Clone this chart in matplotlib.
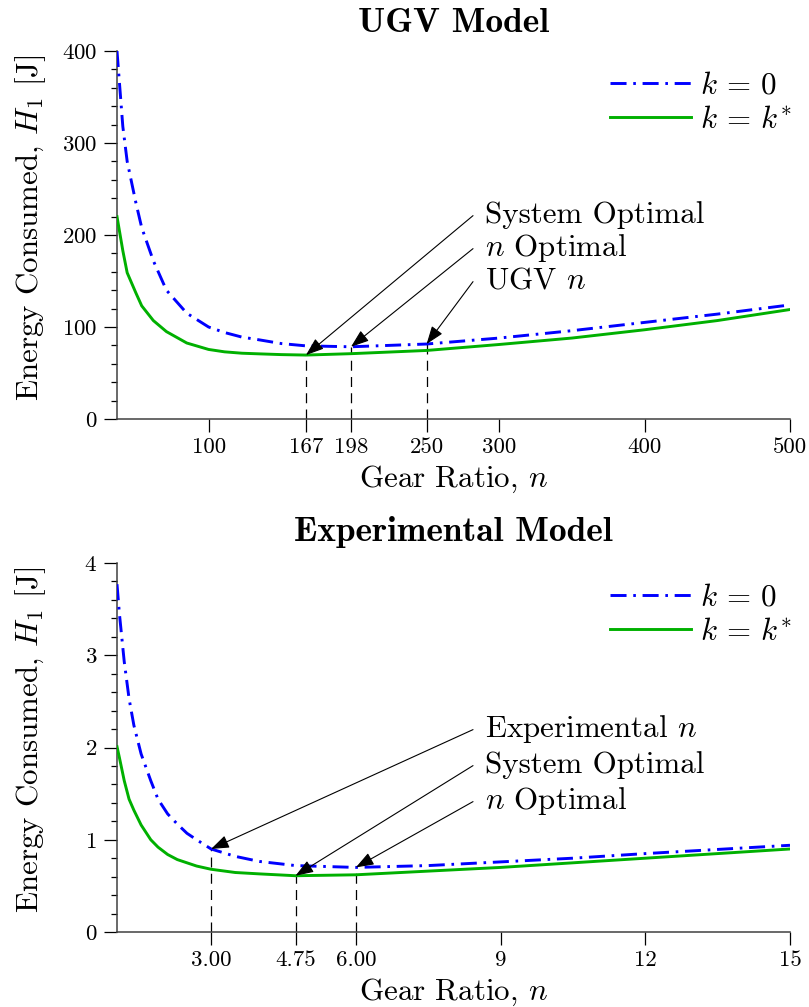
import numpy as np
import matplotlib
matplotlib.use("Agg")
import matplotlib.pyplot as plt
from matplotlib.ticker import FixedLocator, FixedFormatter, MultipleLocator

plt.rcParams["font.family"] = ["cmr10", "DejaVu Serif"]
plt.rcParams["mathtext.fontset"] = "cm"
plt.rcParams["axes.unicode_minus"] = False
plt.rcParams["axes.formatter.use_mathtext"] = True

# ---- UGV model: energy vs gear ratio ----
ugv_n = [37, 41, 44, 50, 54, 62, 71, 85, 100, 111, 123, 135, 150, 167, 198,
         250, 300, 350, 400, 450, 500]
ugv_k0 = [400, 318, 280, 235, 208, 172, 140, 115, 100, 94, 89, 86, 82, 79.5,
          78.5, 81.5, 88, 96, 105, 114, 124]
ugv_kstar = [220, 183, 159, 137, 123, 107, 95, 82.6, 75.6, 73, 71.5, 70.8, 70,
             69.5, 71, 74.5, 81, 88, 97, 107, 119]
ugv_xticks = [100, 167, 198, 250, 300, 400, 500]
ugv_xticklabels = ["100", "167", "198", "250", "300", "400", "500"]
ugv_yticks = [0, 100, 200, 300, 400]
# (label, gear ratio, curve it points at)
ugv_marks = [("System Optimal", 167, "kstar"),
             ("$n$ Optimal", 198, "k0"),
             ("UGV $n$", 250, "k0")]

# ---- Experimental model ----
exp_n = [1.05, 1.1, 1.2, 1.3, 1.4, 1.55, 1.75, 1.9, 2.1, 2.3, 2.5, 2.7, 3.0,
         3.5, 4.0, 4.75, 6.0, 7.5, 9, 10.5, 12, 13.5, 15]
exp_k0 = [3.77, 3.45, 2.93, 2.53, 2.24, 1.93, 1.64, 1.44, 1.28, 1.17, 1.07,
          1.0, 0.90, 0.82, 0.765, 0.72, 0.70, 0.72, 0.76, 0.80, 0.85, 0.895, 0.94]
exp_kstar = [2.01, 1.89, 1.64, 1.44, 1.32, 1.16, 1.0, 0.92, 0.84, 0.785, 0.75,
             0.715, 0.68, 0.645, 0.63, 0.61, 0.62, 0.66, 0.70, 0.75, 0.80,
             0.85, 0.90]
exp_xticks = [3.0, 4.75, 6.0, 9, 12, 15]
exp_xticklabels = ["3.00", "4.75", "6.00", "9", "12", "15"]
exp_yticks = [0, 1, 2, 3, 4]
exp_marks = [("Experimental $n$", 3.0, "k0"),
             ("System Optimal", 4.75, "kstar"),
             ("$n$ Optimal", 6.0, "k0")]

BLUE = "#0000FF"
GREEN = "#00B000"
SPINE = "#404040"
BIG = 22.3
TITLE = 25.5
TICK = 16.5

W, H = 809, 1007
fig = plt.figure(figsize=(W / 100, H / 100), dpi=100)
ax1 = fig.add_axes([117 / W, 1 - 419 / H, 673 / W, 368 / H])
ax2 = fig.add_axes([117 / W, 1 - 932 / H, 673 / W, 369 / H])


def draw_panel(ax, n, k0, kstar, xlim, ylim, xticks, xlabels, yticks, yminor,
               marks, text_y, title, title_pad):
    ax.plot(n, k0, color=BLUE, lw=2.1, dashes=(5.5, 2.3, 0.9, 2.3),
            label=r"$k\,=\,0$", zorder=3)
    ax.plot(n, kstar, color=GREEN, lw=2.1, label=r"$k\,=\,k^{*}$", zorder=3)

    ax.set_xlim(*xlim)
    ax.set_ylim(*ylim)
    for side in ("top", "right"):
        ax.spines[side].set_visible(False)
    for side in ("left", "bottom"):
        ax.spines[side].set_color(SPINE)
        ax.spines[side].set_linewidth(1.1)

    ax.xaxis.set_major_locator(FixedLocator(xticks))
    ax.xaxis.set_major_formatter(FixedFormatter(xlabels))
    ax.yaxis.set_major_locator(FixedLocator(yticks))
    ax.yaxis.set_minor_locator(MultipleLocator(yminor))
    ax.tick_params(which="major", direction="out", length=9.4, width=0.9,
                   labelsize=TICK, colors="black")
    ax.tick_params(axis="x", which="major", pad=4)
    ax.tick_params(axis="y", which="major", pad=5)
    ax.tick_params(axis="y", which="minor", direction="out", length=4.3,
                   width=0.9)

    ax.set_xlabel("Gear Ratio, $n$", fontsize=BIG, labelpad=5)
    ax.set_ylabel("Energy Consumed, $H_1$ [J]", fontsize=BIG)
    ax.yaxis.set_label_coords(-0.102, 0.52)
    ax.set_title(title, fontsize=TITLE, family=["cmb10", "DejaVu Serif"],
                 pad=title_pad)

    ax.legend(loc="upper right", bbox_to_anchor=(1.012, 0.96),
              frameon=False, fontsize=BIG, handlelength=2.6,
              handletextpad=0.32, labelspacing=0.2, borderaxespad=0.0,
              borderpad=0.2)

    curves = {"k0": k0, "kstar": kstar}
    for (label, xm, which), ty in zip(marks, text_y):
        ym = float(np.interp(xm, n, curves[which]))
        ax.plot([xm, xm], [ylim[0], ym], color="black", lw=0.9,
                dashes=(8, 5), zorder=2)
        ax.annotate("", xy=(xm, ym), xycoords="data",
                    xytext=(0.529, ty + 0.02), textcoords="axes fraction",
                    arrowprops=dict(arrowstyle="-|>,head_length=0.55,head_width=0.2",
                                    color="black", lw=0.8, shrinkA=0,
                                    shrinkB=0, mutation_scale=20),
                    zorder=4)
        ax.text(0.547, ty, label, transform=ax.transAxes, fontsize=BIG,
                ha="left", va="baseline")


# baselines of the annotation texts in axes fraction
top_text_y = [(419 - b) / 368 for b in (223, 256, 289)]
bot_text_y = [(932 - b) / 369 for b in (737, 773, 809)]

draw_panel(ax1, ugv_n, ugv_k0, ugv_kstar, (37, 500), (0, 400), ugv_xticks,
           ugv_xticklabels, ugv_yticks, 20, ugv_marks, top_text_y,
           "UGV Model", 14)
draw_panel(ax2, exp_n, exp_k0, exp_kstar, (1.05, 15), (0, 4), exp_xticks,
           exp_xticklabels, exp_yticks, 0.2, exp_marks, bot_text_y,
           "Experimental Model", 16)

fig.savefig("out.png", dpi=100)
